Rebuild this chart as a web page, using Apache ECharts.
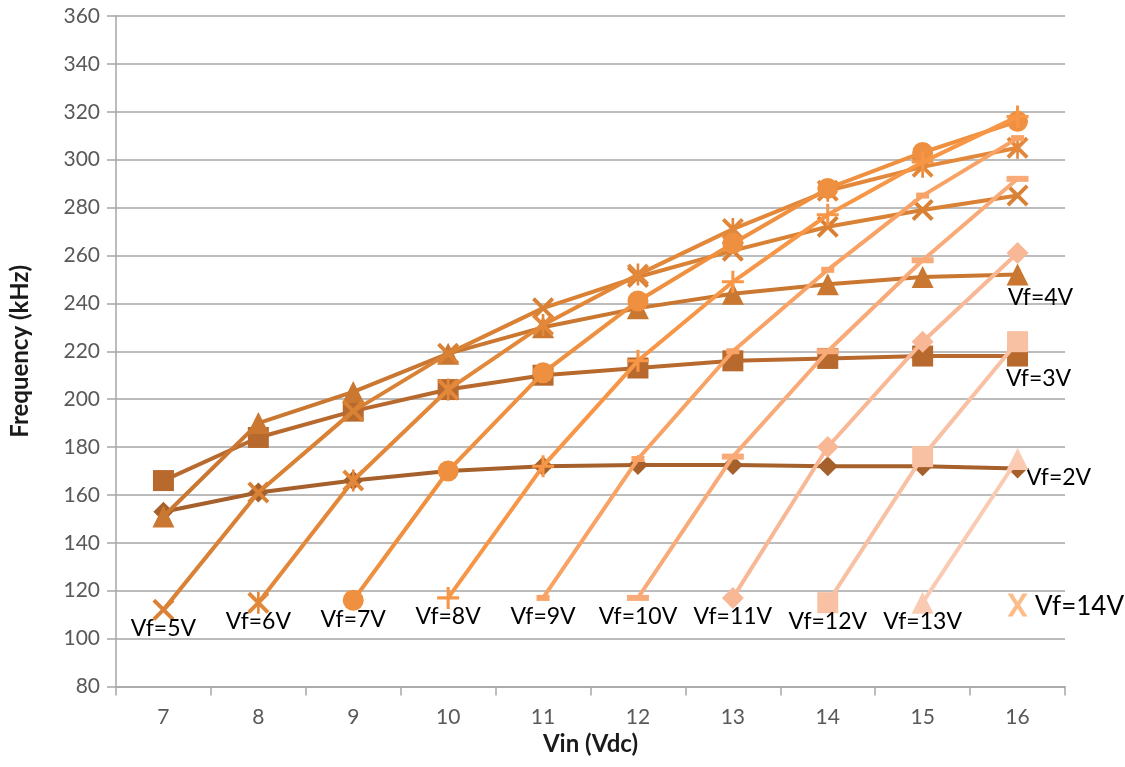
<!DOCTYPE html>
<html>
<head>
<meta charset="utf-8">
<script src="https://cdn.jsdelivr.net/npm/echarts@6/dist/echarts.min.js"></script>
<style>
html,body{margin:0;padding:0;background:#fff;}
#chart{width:1125px;height:767px;}
</style>
</head>
<body>
<div id="chart"></div>
<script>
// ---- data ----
const vin = ['7','8','9','10','11','12','13','14','15','16'];
const seriesNames = ['Vf=2V','Vf=3V','Vf=4V','Vf=5V','Vf=6V','Vf=7V','Vf=8V','Vf=9V','Vf=10V','Vf=11V','Vf=12V','Vf=13V','Vf=14V'];
const vf2  = [153, 161, 166, 170, 172, 172.5, 172.5, 172, 172, 171];
const vf3  = [166, 184, 195, 204, 210, 213, 216, 217, 218, 218];
const vf4  = [151, 190, 203, 219, 230, 238, 244, 248, 251, 252];
const vf5  = [112, 161, 195, 219, 238, 251, 262, 272, 279, 285];
const vf6  = [null, 115, 166, 204, 231, 252, 271, 287, 297, 305];
const vf7  = [null, null, 116, 170, 211, 241, 265, 288, 303, 316];
const vf8  = [null, null, null, 117, 172, 216, 249, 277, 299, 318];
const vf9  = [null, null, null, null, 117, 175, 220, 254, 285, 309];
const vf10 = [null, null, null, null, null, 117, 176, 220, 258, 292];
const vf11 = [null, null, null, null, null, null, 117, 180, 224, 261];
const vf12 = [null, null, null, null, null, null, null, 115, 176, 224];
const vf13 = [null, null, null, null, null, null, null, null, 115, 175];
const vf14 = [null, null, null, null, null, null, null, null, null, 114];
const yTicks = {min: 80, max: 360, interval: 20};

const allData = [vf2, vf3, vf4, vf5, vf6, vf7, vf8, vf9, vf10, vf11, vf12, vf13, vf14];

// ---- styles ----
const colors = ['#A5602B','#B86A2E','#C97731','#D98236','#E3883A','#EE9040','#F79646','#F8A265','#F8AB78','#F9B895','#F9C1A3','#FACAB2','#FBBC88'];
const X_PATH = 'path://M0,2.5 L2.5,0 L10,7.5 L17.5,0 L20,2.5 L12.5,10 L20,17.5 L17.5,20 L10,12.5 L2.5,20 L0,17.5 L7.5,10 Z';
const X_BOLD = 'path://M0,0 L5,0 L10,7 L15,0 L20,0 L12.5,10 L20,20 L15,20 L10,13 L5,20 L0,20 L7.5,10 Z';
const PLUS_PATH = 'path://M8.6,0 L11.4,0 L11.4,8.6 L20,8.6 L20,11.4 L11.4,11.4 L11.4,20 L8.6,20 L8.6,11.4 L0,11.4 L0,8.6 L8.6,8.6 Z';
const STAR_PATH = 'path://M0,2.5 L2.5,0 L10,7.5 L17.5,0 L20,2.5 L12.5,10 L20,17.5 L17.5,20 L10,12.5 L2.5,20 L0,17.5 L7.5,10 Z M8.8,0 L11.2,0 L11.2,20 L8.8,20 Z';
const symbols = [
  ['diamond', 20], ['rect', 21], ['triangle', 22], [X_PATH, 22], [STAR_PATH, 22],
  ['circle', 21], [PLUS_PATH, 22], ['rect', [13, 6]], ['rect', [22, 6]],
  ['diamond', 22], ['rect', 21], ['triangle', 22], [X_BOLD, [20, 23]]
];
const labelFont = 'Lato, "Noto Sans", sans-serif';
function labelCfg(i) {
  if (i === 0) return {idx: 'last', offset: [41, 9], size: 23};
  if (i === 1) return {idx: 'last', offset: [21, 23], size: 23};
  if (i === 2) return {idx: 'last', offset: [23, 23], size: 23};
  if (i === 12) return {idx: 'first', offset: [62, 2], size: 26};
  return {idx: 'first', offset: [0, 19], size: 23};
}

const series = allData.map((arr, i) => {
  const cfg = labelCfg(i);
  const first = arr.findIndex(v => v !== null);
  const last = arr.length - 1;
  const target = cfg.idx === 'first' ? first : last;
  const data = arr.map((v, j) => {
    if (j !== target) return v;
    return {
      value: v,
      label: {
        show: true,
        position: 'inside',
        offset: cfg.offset,
        formatter: seriesNames[i],
        fontSize: cfg.size,
        fontFamily: labelFont,
        color: '#000'
      }
    };
  });
  return {
    name: seriesNames[i],
    type: 'line',
    data: data,
    symbol: symbols[i][0],
    symbolSize: symbols[i][1],
    showAllSymbol: true,
    lineStyle: {color: colors[i], width: 4},
    itemStyle: {color: colors[i]},
    label: {show: false},
    emphasis: {disabled: true},
    animation: false,
    z: 2 + i
  };
});

const chart = echarts.init(document.getElementById('chart'), null, {renderer: 'canvas'});
chart.setOption({
  backgroundColor: '#ffffff',
  animation: false,
  grid: {left: 115, right: 60, top: 16, bottom: 80.5, containLabel: false},
  xAxis: {
    type: 'category',
    data: vin,
    boundaryGap: true,
    name: 'Vin (Vdc)',
    nameLocation: 'middle',
    nameGap: 46,
    nameTextStyle: {fontFamily: labelFont, fontWeight: 'bold', fontSize: 24, color: '#1a1a1a'},
    axisLine: {show: true, lineStyle: {color: '#A6A6A6', width: 1.5}},
    axisTick: {show: true, length: 9, interval: 0, lineStyle: {color: '#A6A6A6', width: 1.5}},
    axisLabel: {fontFamily: labelFont, fontSize: 21, color: '#595959', margin: 20},
    splitLine: {show: false}
  },
  yAxis: {
    type: 'value',
    min: yTicks.min,
    max: yTicks.max,
    interval: yTicks.interval,
    name: 'Frequency (kHz)',
    nameLocation: 'middle',
    nameGap: 84,
    nameTextStyle: {fontFamily: labelFont, fontWeight: 'bold', fontSize: 24, color: '#1a1a1a'},
    axisLine: {show: true, lineStyle: {color: '#A6A6A6', width: 1.5}},
    axisTick: {show: true, length: 9, lineStyle: {color: '#A6A6A6', width: 1.5}},
    axisLabel: {fontFamily: labelFont, fontSize: 21, color: '#595959', margin: 16},
    splitLine: {show: true, lineStyle: {color: '#A6A6A6', width: 1.5}}
  },
  series: series
});
</script>
</body>
</html>
